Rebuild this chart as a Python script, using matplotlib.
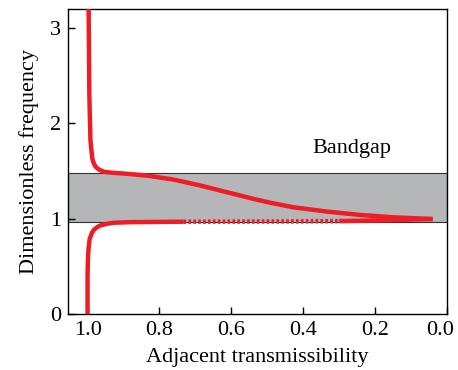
import numpy as np
import matplotlib.pyplot as plt
from matplotlib.transforms import ScaledTranslation

plt.rcParams.update({'font.family': 'Liberation Serif', 'font.size': 16})

# Band gap limits (dimensionless frequency)
gap_low, gap_high = 0.97, 1.48

# Lower branch: transmissibility vs frequency below the gap
low_t = [1.000, 1.000, 0.999, 0.997, 0.994, 0.988, 0.982, 0.972, 0.964, 0.945, 0.927, 0.880, 0.800, 0.733]
low_f = [0.00, 0.40, 0.57, 0.70, 0.79, 0.85, 0.885, 0.915, 0.930, 0.948, 0.958, 0.964, 0.967, 0.969]
# steep part, sampled sparsely
mid_t = [0.733, 0.60, 0.45, 0.30]
mid_f = [0.969, 0.970, 0.972, 0.975]
tip_t = [0.30, 0.20, 0.12, 0.04]
tip_f = [0.975, 0.982, 0.989, 0.997]

# Upper branch: from the tip back up through the gap
up_t = [0.040, 0.149, 0.242, 0.334, 0.427, 0.492, 0.538, 0.612, 0.686, 0.760, 0.834,
        0.899, 0.935, 0.955, 0.968, 0.978, 0.983, 0.987, 0.992, 0.995, 0.997]
up_f = [0.997, 1.015, 1.040, 1.075, 1.120, 1.168, 1.208, 1.278, 1.348, 1.410, 1.452,
        1.474, 1.483, 1.493, 1.515, 1.546, 1.585, 1.634, 1.826, 2.30, 3.20]

fig = plt.figure(figsize=(4.58, 3.70), dpi=100)
ax = fig.add_axes([0.148, 0.151, 0.828, 0.825])

ax.axhspan(gap_low, gap_high, facecolor='#b5b6b8', edgecolor='#333333', linewidth=0.8, zorder=1)

red = '#ee1c25'
lw = 3.2
ax.plot(low_t, low_f, color=red, lw=lw, solid_capstyle='butt', zorder=3)
ax.plot(mid_t, mid_f, color=red, lw=lw, linestyle=(0, (0.6, 0.5)), zorder=3)
ax.plot(tip_t, tip_f, color=red, lw=lw, solid_capstyle='butt', zorder=3)
ax.plot(up_t, up_f, color=red, lw=lw, solid_capstyle='butt', zorder=3)

ax.text(0.265, 1.74, 'Bandgap', ha='center', va='center', fontsize=16)

ax.set_xlim(1.055, 0.0)
ax.set_ylim(0, 3.2)
ax.set_xticks([1.0, 0.8, 0.6, 0.4, 0.2, 0.0])
ax.set_xticklabels(['1.0', '0.8', '0.6', '0.4', '0.2', '0.0'])
ax.set_yticks([0, 1, 2, 3])
ax.tick_params(direction='in', length=5, width=1, labelsize=16, pad=5)
ax.set_xlabel('Adjacent transmissibility', fontsize=16, labelpad=6)
ax.set_ylabel('Dimensionless frequency', fontsize=16, labelpad=8)
for s in ax.spines.values():
    s.set_linewidth(1)

# keep the last tick label inside the figure
last = ax.get_xticklabels()[-1]
last.set_transform(last.get_transform() + ScaledTranslation(-7 / 100, 0, fig.dpi_scale_trans))

fig.savefig('out.png', dpi=100)
